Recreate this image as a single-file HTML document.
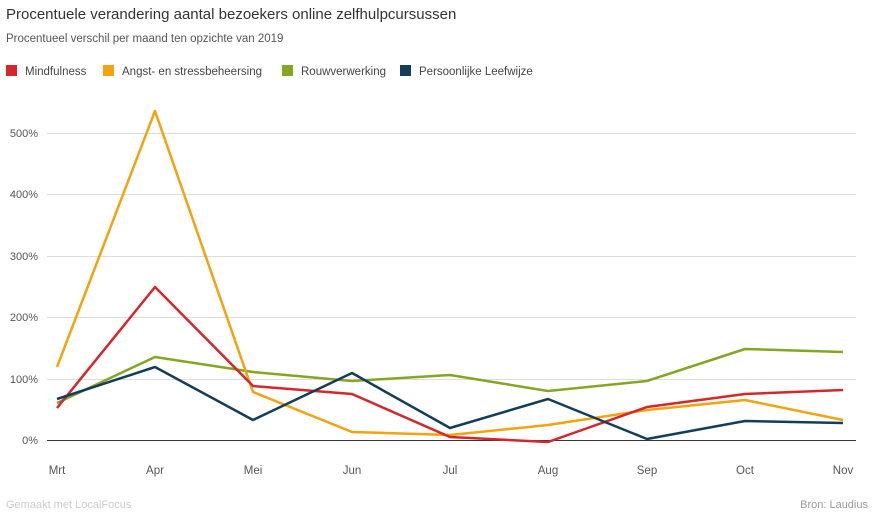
<!DOCTYPE html>
<html><head><meta charset="utf-8"><style>
body{margin:0;background:#fff;font-family:"Liberation Sans",sans-serif;}
svg{display:block}
</style></head><body>
<svg width="874" height="520" xmlns="http://www.w3.org/2000/svg" font-family="Liberation Sans, sans-serif">
<text x="6" y="19" font-size="15" fill="#333">Procentuele verandering aantal bezoekers online zelfhulpcursussen</text>
<text x="6" y="42" font-size="11.5" fill="#555">Procentueel verschil per maand ten opzichte van 2019</text>
<g font-size="11.5" fill="#444">
<rect x="6" y="65" width="11" height="11" fill="#d7262b"/><text x="25" y="75">Mindfulness</text>
<rect x="103" y="65" width="11" height="11" fill="#f4a20e"/><text x="122" y="75">Angst- en stressbeheersing</text>
<rect x="282" y="65" width="11" height="11" fill="#86a522"/><text x="301" y="75">Rouwverwerking</text>
<rect x="400" y="65" width="11" height="11" fill="#143d59"/><text x="419" y="75">Persoonlijke Leefwijze</text>
</g>
<g stroke="#ddd" stroke-width="1">
<line x1="47" x2="856" y1="133.5" y2="133.5"/>
<line x1="47" x2="856" y1="194.5" y2="194.5"/>
<line x1="47" x2="856" y1="256.5" y2="256.5"/>
<line x1="47" x2="856" y1="317.5" y2="317.5"/>
<line x1="47" x2="856" y1="379.5" y2="379.5"/>
</g>
<line x1="47" x2="856" y1="440.5" y2="440.5" stroke="#333"/>
<g font-size="11" fill="#555" text-anchor="end">
<text x="38" y="137">500%</text><text x="38" y="198">400%</text><text x="38" y="260">300%</text>
<text x="38" y="321">200%</text><text x="38" y="383">100%</text><text x="38" y="444">0%</text>
</g>
<g font-size="11.5" fill="#555" text-anchor="middle">
<text x="57" y="474">Mrt</text><text x="155" y="474">Apr</text><text x="253" y="474">Mei</text>
<text x="352" y="474">Jun</text><text x="450" y="474">Jul</text><text x="548" y="474">Aug</text>
<text x="647" y="474">Sep</text><text x="745" y="474">Oct</text><text x="843" y="474">Nov</text>
</g>
<g fill="none" stroke-width="2.5" stroke-linejoin="round">
<polyline stroke="#86a522" points="57,403 155,357 253,372 352,381 450,375 548,391 647,381 745,349 843,352"/>
<polyline stroke="#f4a20e" points="57,367 155,111 253,392 352,432 450,435 548,425 647,410 745,400 843,420"/>
<polyline stroke="#d7262b" points="57,408 155,287 253,386 352,394 450,437 548,442 647,407 745,394 843,390"/>
<polyline stroke="#143d59" points="57,399 155,367 253,420 352,373 450,428 548,399 647,439 745,421 843,423"/>
</g>
<text x="6" y="508" font-size="11" fill="#ccc">Gemaakt met LocalFocus</text>
<text x="868" y="508" font-size="11" fill="#999" text-anchor="end">Bron:  Laudius</text>
</svg>
</body></html>
